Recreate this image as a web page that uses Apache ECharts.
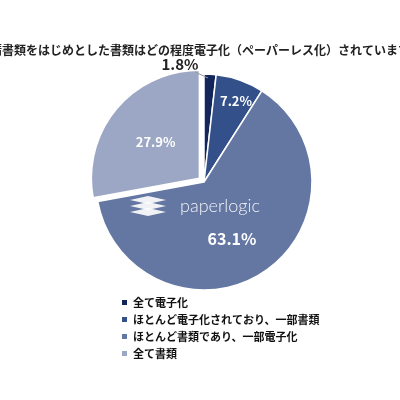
<!DOCTYPE html>
<html><head><meta charset="utf-8">
<script src="https://cdn.jsdelivr.net/npm/echarts@6/dist/echarts.min.js"></script>
<style>html,body{margin:0;background:#fff}#c{width:400px;height:400px}</style>
</head><body><div id="c"></div>
<script>
var categories = ['全て電子化', 'ほとんど電子化されており、一部書類', 'ほとんど書類であり、一部電子化', '全て書類'];
var values = [1.8, 7.2, 63.1, 27.9];
var colors = ['#13265c', '#33508a', '#6477a2', '#9ba7c4'];

var chart = echarts.init(document.getElementById('c'));
var data = categories.map(function (name, i) {
    var d = {name: name, value: values[i], itemStyle: {color: colors[i]}};
    if (i === 0) {
        d.label = {position: 'outside', color: '#222', fontSize: 15, formatter: '{c}%'};
    }
    if (i === 2) d.label = {fontSize: 16};
    if (i === 3) d.selected = true;
    return d;
});
// where the labels sit in the reference
var labelSpots = [[180, 64], [236, 101], [232, 239], [141, 138]];
var logoLayers = [0, 6, 12];
chart.setOption({
    textStyle: {fontFamily: 'Noto Sans CJK JP'},
    title: {
        text: '申請書類をはじめとした書類はどの程度電子化（ペーパーレス化）されていますか',
        left: 'center', top: 39,
        textStyle: {fontSize: 12, fontWeight: 'bold', color: '#222'}
    },
    legend: {
        orient: 'vertical', left: 115, top: 292, itemWidth: 7, itemHeight: 7, itemGap: 6,
        icon: 'rect', selectedMode: false,
        textStyle: {fontSize: 11, fontWeight: 'bold', color: '#111'}
    },
    graphic: [{
        type: 'text', left: 180, top: 197, z: 100,
        style: {text: 'paperlogic', fill: 'rgba(255,255,255,0.9)', font: '300 18px Lato', letterSpacing: 2.5}
    }, {
        type: 'line', z: 100, shape: {x1: 195, y1: 72, x2: 208, y2: 78},
        style: {stroke: '#999', lineWidth: 1}
    }].concat(logoLayers.map(function (y) {
        return {type: 'polygon', z: 100,
            shape: {points: [[130, 200 + y], [148, 196 + y], [166, 200 + y], [148, 204 + y]]},
            style: {fill: 'rgba(255,255,255,0.9)'}};
    })),
    series: [{
        type: 'pie', center: [204, 182], radius: [0, 108], startAngle: 90,
        selectedMode: 'single', selectedOffset: 6,
        itemStyle: {borderColor: '#fff', borderWidth: 1.5},
        label: {position: 'inside', color: '#fff', fontSize: 13, fontWeight: 'bold', formatter: '{c}%'},
        labelLine: {show: false},
        labelLayout: function (p) {
            var s = labelSpots[p.dataIndex];
            return {x: s[0], y: s[1], align: 'center', verticalAlign: 'middle'};
        },
        data: data
    }]
});
</script></body></html>
